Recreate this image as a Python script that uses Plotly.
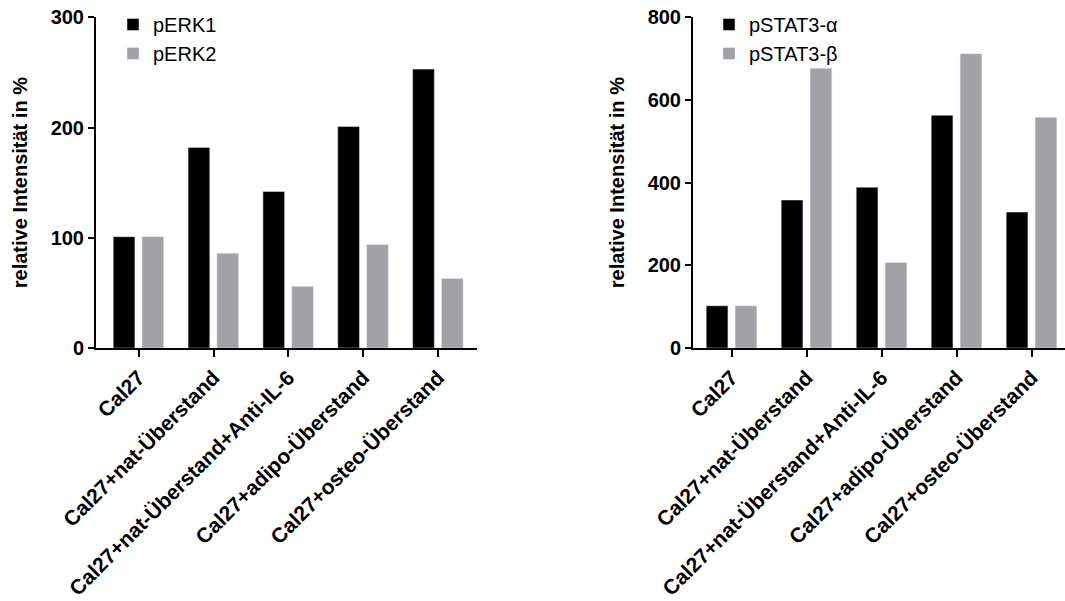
import plotly.graph_objects as go

categories = ["Cal27", "Cal27+nat-Überstand", "Cal27+nat-Überstand+Anti-IL-6",
              "Cal27+adipo-Überstand", "Cal27+osteo-Überstand"]
perk1 = [101, 182, 142, 201, 253]
perk2 = [101, 86, 56, 94, 63]
pstat3_a = [102, 358, 389, 563, 329]
pstat3_b = [102, 677, 207, 712, 558]
left_ticks = [0, 100, 200, 300]
right_ticks = [0, 200, 400, 600, 800]

BLACK = "#000000"
GRAY = "#a2a1a6"
FONT = "Arial, Liberation Sans, sans-serif"

fig = go.Figure()
W = 0.29
fig.add_trace(go.Bar(x=categories, y=perk1, name="pERK1", marker_color=BLACK,
                     width=W, offset=-0.34, xaxis="x", yaxis="y", legend="legend"))
fig.add_trace(go.Bar(x=categories, y=perk2, name="pERK2", marker_color=GRAY,
                     width=W, offset=0.045, xaxis="x", yaxis="y", legend="legend"))
fig.add_trace(go.Bar(x=categories, y=pstat3_a, name="pSTAT3-α", marker_color=BLACK,
                     width=W, offset=-0.34, xaxis="x2", yaxis="y2", legend="legend2"))
fig.add_trace(go.Bar(x=categories, y=pstat3_b, name="pSTAT3-β", marker_color=GRAY,
                     width=W, offset=0.045, xaxis="x2", yaxis="y2", legend="legend2"))

ydom = [(601 - 348) / 601, (601 - 17.3) / 601]
common_x = dict(type="category", showline=True, linewidth=2, linecolor="black",
                ticks="outside", ticklen=7, tickwidth=2, tickcolor="black",
                tickangle=-45, showgrid=False, zeroline=False, automargin=False,
                tickfont=dict(family=FONT, size=21, color="black", weight="bold"))
common_y = dict(showline=True, linewidth=2, linecolor="black",
                ticks="outside", ticklen=6, tickwidth=2, tickcolor="black",
                showgrid=False, zeroline=False, automargin=False,
                tickfont=dict(family=FONT, size=20, color="black", weight="bold"),
                title=dict(text="relative Intensität in %", standoff=18,
                           font=dict(family=FONT, size=20, color="black", weight="bold")))

fig.update_layout(
    width=1065, height=601,
    margin=dict(l=0, r=0, t=0, b=0, autoexpand=False),
    paper_bgcolor="white", plot_bgcolor="white",
    barmode="overlay",
    font=dict(family=FONT, color="black"),
    xaxis=dict(domain=[96 / 1065, 477 / 1065], range=[-0.57, 4.52], anchor="y", **common_x),
    yaxis=dict(domain=ydom, range=[0, 300], tickvals=left_ticks, anchor="x", **common_y),
    xaxis2=dict(domain=[693 / 1065, 1.0], range=[-0.516, 4.444], anchor="y2", **common_x),
    yaxis2=dict(domain=ydom, range=[0, 800], tickvals=right_ticks, anchor="x2", **common_y),
    legend=dict(x=113 / 1065, y=1 - 5 / 601, xanchor="left", yanchor="top",
                bgcolor="rgba(0,0,0,0)", font=dict(family=FONT, size=20, color="black"),
                tracegroupgap=0),
    legend2=dict(x=709 / 1065, y=1 - 5 / 601, xanchor="left", yanchor="top",
                 bgcolor="rgba(0,0,0,0)", font=dict(family=FONT, size=20, color="black"),
                 tracegroupgap=0),
    showlegend=True,
)

fig.write_html("out.html")
